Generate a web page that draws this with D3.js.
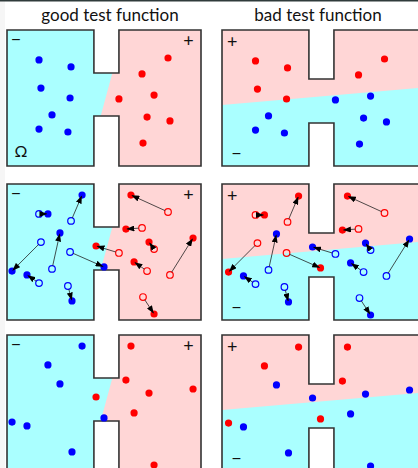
<!DOCTYPE html>
<html><head><meta charset="utf-8">
<script src="https://cdn.jsdelivr.net/npm/d3@7"></script>
<style>html,body{margin:0;padding:0;background:#fff;}svg{display:block;}</style>
</head><body>
<script>
// ---- data (domain units: x 0..100, y 0..70, y downward) ----
const particleIds = ["B1","B2","B3","B4","B5","B6","B7","R1","R2","R3","R4","R5","R6","R7"];
const startX = [33.0,16.5,17.5,23.2,32.5,16.5,31.4, 83.0,69.6,57.7,75.8,72.2,84.0,70.1];
const startY = [19.0,15.4,29.9,43.7,35.0,51.0,52.5, 14.4,22.6,35.5,33.5,44.8,46.8,58.2];
const endX   = [38.7,21.1, 2.6,27.3,50.0,10.3,33.5, 63.9,61.3,45.9,73.2,65.5,95.9,75.8];
const endY   = [ 5.7,15.4,44.8,25.2,42.7,46.8,60.2,  5.7,23.2,31.9,29.9,40.1,27.8,66.9];
// sign of each test function at the particle's start position (+1 red, -1 blue)
const goodSign = [-1,-1,-1,-1,-1,-1,-1, 1,1,1,1,1,1,1];
const badSign  = [ 1, 1, 1,-1, 1,-1,-1, 1,1,-1,-1,-1,-1,-1];
const titles = ["good test function","bad test function"];
// test-function zero lines (two points each)
const goodLine = [[54.3,22.1],[48.3,44.3]];
const badLine  = [[0,38.6],[101,29.8]];

const W = 418, H = 468;
const PW = 194, PH = 136;
const x = d3.scaleLinear().domain([0,100]).range([0,PW]);
const y = d3.scaleLinear().domain([0,70]).range([0,PH]);
const colors = {pos:"#ff0000", neg:"#0000ff", posFill:"#ffd6d6", negFill:"#aaffff", edge:"#333333"};

const svg = d3.select("body").append("svg").attr("width",W).attr("height",H)
  .style("font-family","Lato, 'Open Sans', sans-serif");
svg.append("rect").attr("width",W).attr("height",H).attr("fill","#fff");
svg.append("rect").attr("x",0).attr("y",0).attr("width",5).attr("height",H).attr("fill","#f6f6f6");
svg.append("rect").attr("x",0).attr("y",0).attr("width",W).attr("height",1.5).attr("fill","#2f3b3b");

const defs = svg.append("defs");
defs.append("marker").attr("id","ah").attr("markerUnits","userSpaceOnUse")
  .attr("markerWidth",8).attr("markerHeight",6).attr("refX",7.5).attr("refY",3)
  .attr("orient","auto")
  .append("path").attr("d","M0,0 L8,3 L0,6 Z").attr("fill","#000");

function domainPoly(xmax, n0, n1, depth, bottomTop){
  return [[0,0],[n0,0],[n0,depth],[n1,depth],[n1,0],[xmax,0],[xmax,70],[n1,70],[n1,bottomTop],[n0,bottomTop],[n0,70],[0,70]];
}
const goodGeom = {n0:44.8, n1:57.7, depth:22.1, bottomTop:44.3};
const badGeom  = {n0:44.8, n1:57.7, depth:25.2, bottomTop:47.9};
const panels = [
  {col:0, x0:7,   g:goodGeom, xmax:100, line:goodLine, sign:goodSign, posSide:"right"},
  {col:1, x0:222, g:badGeom,  xmax:106, line:badLine,  sign:badSign,  posSide:"above"}
];
panels.forEach(P=>{ P.poly = domainPoly(P.xmax,P.g.n0,P.g.n1,P.g.depth,P.g.bottomTop); });
const rowTops = [30,184,335];
const line = d3.line().x(d=>x(d[0])).y(d=>y(d[1]));

titles.forEach((t,i)=>{
  svg.append("text").attr("x",[110,318][i]).attr("y",21).attr("text-anchor","middle")
    .attr("font-size",17).attr("fill","#111").text(t);
});

function lineXat(L, yy){
  const [p,q]=L; return p[0] + (q[0]-p[0])*(yy-p[1])/(q[1]-p[1]);
}
function lineYat(L, xx){
  const [p,q]=L; return p[1] + (q[1]-p[1])*(xx-p[0])/(q[0]-p[0]);
}

panels.forEach(P=>{
  rowTops.forEach((top,r)=>{
    const g = svg.append("g").attr("transform",`translate(${P.x0},${top})`);
    const cid = `clip${P.col}${r}`;
    defs.append("clipPath").attr("id",cid).append("path").attr("d",line(P.poly)+"Z");
    const fill = g.append("g").attr("clip-path",`url(#${cid})`);
    fill.append("path").attr("d",line(P.poly)+"Z").attr("fill",colors.negFill);
    let half;
    if(P.posSide==="right"){
      // positive region: right chamber plus the part of the neck right of the zero line
      const G=P.g;
      half=[[G.n1,-5],[200,-5],[200,75],[G.n1,75],[G.n1,G.bottomTop],
            [lineXat(P.line,G.bottomTop),G.bottomTop],[lineXat(P.line,G.depth),G.depth],[G.n1,G.depth]];
    } else {
      half=[[-5,lineYat(P.line,-5)],[200,lineYat(P.line,200)],[200,-5],[-5,-5]];
    }
    fill.append("path").attr("d",line(half)+"Z").attr("fill",colors.posFill);
    g.append("path").attr("d",line(P.poly)+"Z").attr("fill","none")
      .attr("stroke",colors.edge).attr("stroke-width",1.6).attr("stroke-linejoin","miter");

    // sign labels
    if(P.col===0){
      g.append("text").attr("x",x(4.6)).attr("y",y(7.5)).attr("text-anchor","middle").attr("font-size",18).attr("fill","#111").text("−");
      g.append("text").attr("x",x(93.5)).attr("y",y(8.6)).attr("text-anchor","middle").attr("font-size",18).attr("fill","#111").text("+");
      if(r===0) g.append("text").attr("x",x(7.2)).attr("y",y(65.5)).attr("text-anchor","middle").attr("font-size",16).attr("fill","#111").text("Ω");
    } else {
      g.append("text").attr("x",x(5.3)).attr("y",y(9.3)).attr("text-anchor","middle").attr("font-size",18).attr("fill","#111").text("+");
      g.append("text").attr("x",x(7.4)).attr("y",y(66.5)).attr("text-anchor","middle").attr("font-size",18).attr("fill","#111").text("−");
    }

    const dots = g.append("g").attr("transform", P.col===1 ? "translate(1.5,1)" : null);
    const idx = d3.range(particleIds.length);
    const col = i => P.sign[i]>0 ? colors.pos : colors.neg;
    if(r===0){
      dots.selectAll("circle").data(idx).join("circle")
        .attr("cx",i=>x(startX[i])).attr("cy",i=>y(startY[i])).attr("r",3.6).attr("fill",col);
    } else if(r===2){
      dots.selectAll("circle").data(idx).join("circle")
        .attr("cx",i=>x(endX[i])).attr("cy",i=>y(endY[i])).attr("r",3.6).attr("fill",col);
    } else {
      dots.selectAll("circle.o").data(idx).join("circle").attr("class","o")
        .attr("cx",i=>x(startX[i])).attr("cy",i=>y(startY[i])).attr("r",3.3)
        .attr("fill","none").attr("stroke",col).attr("stroke-width",1.2);
      dots.selectAll("circle.f").data(idx).join("circle").attr("class","f")
        .attr("cx",i=>x(endX[i])).attr("cy",i=>y(endY[i])).attr("r",3.6).attr("fill",col);
      dots.selectAll("line").data(idx).join("line")
        .each(function(i){
          const x1=x(startX[i]), y1=y(startY[i]), x2=x(endX[i]), y2=y(endY[i]);
          const L=Math.hypot(x2-x1,y2-y1), ux=(x2-x1)/L, uy=(y2-y1)/L;
          d3.select(this).attr("x1",x1+ux*3.3).attr("y1",y1+uy*3.3)
            .attr("x2",x2-ux*1.0).attr("y2",y2-uy*1.0);
        })
        .attr("stroke","#222").attr("stroke-width",0.8).attr("marker-end","url(#ah)");
    }
  });
});
</script>
</body></html>
